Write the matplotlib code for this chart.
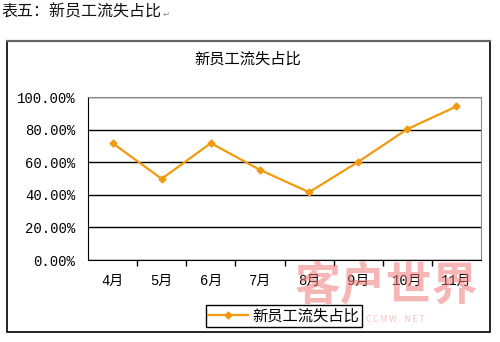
import matplotlib
matplotlib.use("Agg")
import matplotlib.pyplot as plt
from matplotlib.patches import Rectangle
from matplotlib.ticker import FixedLocator, PercentFormatter

plt.rcParams["font.family"] = ["Noto Sans CJK SC", "DejaVu Sans"]

# data
months = ["4月", "5月", "6月", "7月", "8月", "9月", "10月", "11月"]
loss_pct = [71.7, 49.8, 71.7, 55.3, 41.6, 60.2, 80.3, 94.2]
y_ticks = [0, 20, 40, 60, 80, 100]

W, H = 500, 342
fig = plt.figure(figsize=(W / 100, H / 100), dpi=100)
tick_fam = ["Liberation Mono", "Noto Sans CJK SC"]


def fx(px):
    return px / W


def fy(py):
    return 1 - py / H


# page header above the chart
fig.text(fx(1), fy(12), "表五：新员工流失占比", fontsize=11.5,
         ha="left", va="center", color="#111111")
fig.text(fx(163), fy(14), "↵", fontsize=6, ha="left", va="center", color="#888888")

# watermark (sits behind everything)
fig.text(fx(386), fy(287), "客户世界", fontsize=33, fontweight="bold", ha="center",
         va="center", color="#f07a7a", alpha=0.55, zorder=0)
fig.text(fx(395), fy(320), "C C M W .  N E T", fontsize=6, ha="center", va="center",
         color="#f5c0c0", zorder=0)

# outer chart frame
frame = Rectangle((fx(7), fy(332)), fx(490) - fx(7), fy(41) - fy(332),
                  transform=fig.transFigure, fill=False, edgecolor="black", lw=1.2)
fig.patches.append(frame)
fig.add_artist(plt.Line2D([fx(7), fx(490)], [fy(41), fy(41)],
                          transform=fig.transFigure, color="#666666", lw=1.6))

fig.text(fx(248), fy(59), "新员工流失占比", fontsize=11, ha="center", va="center")

ax = fig.add_axes([fx(88), fy(260), fx(481) - fx(88), fy(97) - fy(260)])
ax.patch.set_alpha(0)
x = list(range(len(months)))
ax.plot(x, loss_pct, color="#f29a0f", lw=1.6, marker="D", ms=3.5,
        label="新员工流失占比", zorder=3)

ax.set_xlim(-0.5, len(months) - 0.5)
ax.set_ylim(0, 100)
ax.yaxis.set_major_locator(FixedLocator(y_ticks))
ax.yaxis.set_major_formatter(PercentFormatter(decimals=2))
ax.set_xticks(x)
ax.set_xticklabels(months)
ax.xaxis.set_minor_locator(FixedLocator([i + 0.5 for i in x[:-1]]))
ax.tick_params(axis="x", which="major", length=0, pad=10, labelsize=10)
ax.tick_params(axis="x", which="minor", length=4, direction="out", width=1)
ax.tick_params(axis="y", length=0, pad=9, labelsize=10)
for lbl in ax.get_xticklabels() + ax.get_yticklabels():
    lbl.set_family(tick_fam)
ax.grid(axis="y", color="black", lw=1)

for side in ["top", "right"]:
    ax.spines[side].set_color("#888888")
ax.spines["left"].set_color("black")
ax.spines["bottom"].set_color("black")

leg = fig.legend(loc="center", bbox_to_anchor=(fx(284), fy(316)), fontsize=11,
                 frameon=True, fancybox=False, edgecolor="black", handlelength=2.6,
                 borderpad=0.15, handletextpad=0.3, framealpha=1)
leg.get_frame().set_linewidth(1.0)

fig.savefig("out.png", dpi=100)
